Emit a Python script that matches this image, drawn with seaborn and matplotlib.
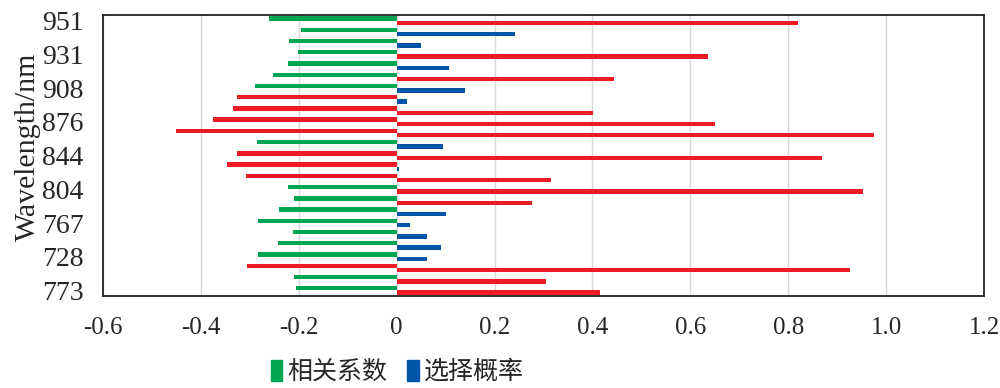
import matplotlib
matplotlib.use("Agg")
import matplotlib.pyplot as plt
import pandas as pd
import seaborn as sns
from matplotlib.patches import Patch

# 25 wavelength rows, top to bottom; only every third one is labelled
tick_labels = ["951", "931", "908", "876", "844", "804", "767", "728", "773"]
rows = list(range(25))

corr = [-0.261, -0.196, -0.219, -0.201, -0.222, -0.253, -0.289, -0.327, -0.334,
        -0.376, -0.451, -0.286, -0.327, -0.347, -0.308, -0.222, -0.209, -0.240,
        -0.284, -0.212, -0.243, -0.284, -0.305, -0.209, -0.206]
prob = [0.819, 0.242, 0.049, 0.636, 0.106, 0.445, 0.140, 0.022, 0.401, 0.651,
        0.976, 0.095, 0.868, 0.004, 0.316, 0.953, 0.276, 0.100, 0.027, 0.061,
        0.090, 0.061, 0.927, 0.305, 0.415]
# rows highlighted in red
corr_sel = [7, 8, 9, 10, 12, 13, 14, 22]
prob_sel = [0, 3, 5, 8, 9, 10, 12, 14, 15, 16, 22, 23, 24]

GREEN = "#00A651"
BLUE = "#0055A8"
RED = "#ED1C24"

df = pd.concat([
    pd.DataFrame({"row": rows, "value": corr, "series": "相关系数"}),
    pd.DataFrame({"row": rows, "value": prob, "series": "选择概率"}),
])

sns.set_style("white")
plt.rcParams["font.family"] = ["Liberation Serif", "Noto Sans CJK SC"]

fig = plt.figure(figsize=(10, 3.88), dpi=100)
ax = fig.add_axes([0.103, 0.237, 0.881, 0.724])
sns.barplot(data=df, x="value", y="row", hue="series", orient="h", order=rows,
            hue_order=["相关系数", "选择概率"], palette=[GREEN, BLUE],
            width=0.78, ax=ax, legend=False, saturation=1)

for p in ax.patches:
    r = int(round(p.get_y() + p.get_height() / 2))
    w = p.get_width()
    if (w < 0 and r in corr_sel) or (w > 0 and r in prob_sel):
        p.set_facecolor(RED)
    p.set_edgecolor("none")

ax.set_xlim(-0.6, 1.2)
ax.set_ylim(24.5, -0.5)
ax.set_xticks([-0.6, -0.4, -0.2, 0, 0.2, 0.4, 0.6, 0.8, 1.0, 1.2])
ax.set_xticklabels(["-0.6", "-0.4", "-0.2", "0", "0.2", "0.4", "0.6", "0.8", "1.0", "1.2"],
                   fontsize=18)
ax.set_yticks(rows[::3])
ax.set_yticklabels(tick_labels, fontsize=20)
ax.tick_params(axis="y", length=0, pad=14)
ax.tick_params(axis="x", length=0, pad=15)
ax.xaxis.grid(True, color="#d9d9d9", linewidth=1)
ax.set_axisbelow(True)
ax.set_xlabel("")
ax.set_ylabel("Wavelength/nm", fontsize=21.5)
ax.yaxis.set_label_coords(-0.07, 0.53)
for s in ax.spines.values():
    s.set_color("#222222")
    s.set_linewidth(1.3)

handles = [Patch(color=GREEN, label="相关系数"), Patch(color=BLUE, label="选择概率")]
ax.legend(handles=handles, loc="center", bbox_to_anchor=(0.334, -0.27), ncol=2,
          frameon=False, handlelength=0.45, handleheight=0.9,
          handletextpad=0.2, columnspacing=0.8,
          prop={"family": ["Noto Sans CJK SC"], "size": 18})

fig.savefig("out.png", dpi=100)
